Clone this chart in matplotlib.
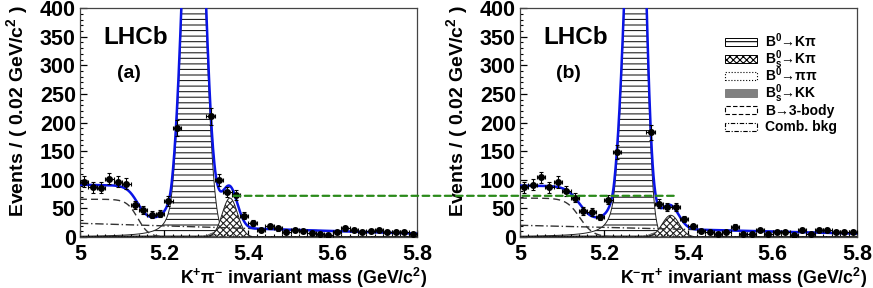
import numpy as np
import matplotlib
matplotlib.use("Agg")
import matplotlib.pyplot as plt
from matplotlib.patches import Rectangle, ConnectionPatch

plt.rcParams['font.family'] = ['Liberation Sans', 'DejaVu Sans']
plt.rcParams['font.weight'] = 'bold'
plt.rcParams['mathtext.fontset'] = 'custom'
plt.rcParams['mathtext.rm'] = 'Liberation Sans:bold'
plt.rcParams['mathtext.bf'] = 'Liberation Sans:bold'
plt.rcParams['mathtext.it'] = 'Liberation Sans:bold:italic'
plt.rcParams['mathtext.default'] = 'bf'
plt.rcParams['hatch.linewidth'] = 0.8

# bin centres, 0.02 GeV/c^2 wide
mass_bins = [5.01, 5.03, 5.05, 5.07, 5.09, 5.11, 5.13, 5.15, 5.17, 5.19,
             5.21, 5.23, 5.25, 5.27, 5.29, 5.31, 5.33, 5.35, 5.37, 5.39,
             5.41, 5.43, 5.45, 5.47, 5.49, 5.51, 5.53, 5.55, 5.57, 5.59,
             5.61, 5.63, 5.65, 5.67, 5.69, 5.71, 5.73, 5.75, 5.77, 5.79]

# events per bin (bins at 5.25-5.29 are off scale, estimated)
events_kpluspi = [97, 87, 86, 102, 97, 93, 56, 48, 39, 41,
                  63, 190, 600, 850, 610, 211, 100, 79, 73, 37,
                  25, 13, 19, 15, 9, 13, 11, 7, 6, 4,
                  9, 15, 12, 9, 11, 13, 9, 9, 8, 6]
events_kminuspi = [87, 91, 104, 87, 96, 81, 69, 46, 44, 35,
                   65, 148, 520, 800, 560, 183, 58, 53, 52, 31,
                   19, 10, 8, 5, 8, 18, 5, 6, 12, 6,
                   8, 8, 4, 12, 5, 13, 12, 8, 8, 8]

# fit components: (amplitude, mean, sigma_left, sigma_right)
b0kpi_a = (833, 5.271, 0.0243, 0.0228)
b0kpi_b = (856, 5.2785, 0.0251, 0.0175)
tail_alpha, tail_n = 2.2, 1.5
bskpi_a = (68, 5.356, 0.018)
bskpi_b = (38, 5.358, 0.020)
bskk_a = (10, 5.325, 0.018)
bskk_b = (9, 5.325, 0.018)
b0pipi_a = (4, 5.33, 0.025)
b0pipi_b = (4, 5.33, 0.025)
# 3-body: (plateau, edge, edge width)
threebody_a = (66, 5.137, 0.013)
threebody_b = (68, 5.142, 0.016)
# combinatorial: level at 5.0 and at 5.8
comb_a = (24, 6)
comb_b = (20.5, 6)

xticks = [5.0, 5.2, 5.4, 5.6, 5.8]
xticklabels = ['5', '5.2', '5.4', '5.6', '5.8']
yticks = [0, 50, 100, 150, 200, 250, 300, 350, 400]

# green reference level drawn across both panels
ref_level = 72
ref_start_a = 5.365
ref_end_b = 5.372

legend_labels = [r'B$^0$→Kπ', r'B$^0_s$→Kπ', r'B$^0$→ππ', r'B$^0_s$→KK',
                 'B→3-body', 'Comb. bkg']
legend_styles = [
    dict(facecolor='white', edgecolor='black', hatch='---', lw=0.7),
    dict(facecolor='white', edgecolor='black', hatch='xxxxx', lw=0.7),
    dict(facecolor='white', edgecolor='black', ls=':', lw=0.8),
    dict(facecolor='#808080', edgecolor='#808080', lw=0.7),
    dict(fill=False, edgecolor='black', ls=(0, (4, 2)), lw=0.8),
    dict(fill=False, edgecolor='black', ls=(0, (4, 1.5, 1, 1.5)), lw=0.8),
]


def gauss(x, amp, mean, sig):
    return amp * np.exp(-0.5 * ((x - mean) / sig) ** 2)


def b0_shape(x, pars):
    amp, mean, sl, sr = pars
    t = np.where(x < mean, (x - mean) / sl, (x - mean) / sr)
    a = (tail_n / tail_alpha) ** tail_n * np.exp(-0.5 * tail_alpha ** 2)
    b = tail_n / tail_alpha - tail_alpha
    tt = np.minimum(t, -tail_alpha)
    tail = a * (b - tt) ** (-tail_n)
    return amp * np.where(t < -tail_alpha, tail, np.exp(-0.5 * t ** 2))


def draw_panel(ax, events, b0p, bsp, kkp, pipip, tbp, combp, xlab, tag):
    x = np.linspace(5.0, 5.8, 801)
    b0 = b0_shape(x, b0p)
    bs = gauss(x, *bsp)
    kk = gauss(x, *kkp)
    pipi = gauss(x, *pipip)
    tb = tbp[0] / (1 + np.exp((x - tbp[1]) / tbp[2]))
    comb = combp[0] + (combp[1] - combp[0]) * (x - 5.0) / 0.8
    total = b0 + bs + kk + pipi + tb + comb

    ax.fill_between(x, 0, b0, facecolor='white', edgecolor='#222222',
                    hatch='---', linewidth=0.7, zorder=1)
    ax.fill_between(x, 0, kk, facecolor='#808080', edgecolor='#606060',
                    linewidth=0.5, zorder=2)
    ax.fill_between(x, 0, bs, facecolor='white', edgecolor='#222222',
                    hatch='xxxxx', linewidth=0.7, zorder=2)
    ax.plot(x, pipi, color='black', lw=0.8, ls=':', zorder=3)
    ax.plot(x, tb, color='#333333', lw=1.0, ls=(0, (5, 3)), zorder=3)
    ax.plot(x, comb, color='#333333', lw=1.0, ls=(0, (6, 2, 1, 2)), zorder=3)
    ax.plot(x, total, color='#0a14e6', lw=1.8, zorder=4)

    ev = np.array(events, dtype=float)
    ax.errorbar(mass_bins, ev, yerr=np.sqrt(ev), xerr=0.01, fmt='o',
                color='black', ms=4, elinewidth=0.8, capsize=1.5,
                capthick=0.8, zorder=5)

    ax.set_xlim(5.0, 5.8)
    ax.set_ylim(0, 400)
    ax.set_xticks(xticks)
    ax.set_xticklabels(xticklabels)
    ax.set_xticks(np.arange(5.0, 5.801, 0.02), minor=True)
    ax.set_yticks(yticks)
    ax.set_yticks(np.arange(0, 401, 10), minor=True)
    ax.tick_params(which='both', direction='in', labelsize=15.5)
    ax.tick_params(axis='y', pad=3)
    ax.tick_params(axis='x', pad=5)
    ax.tick_params(which='major', length=5, width=0.9)
    ax.tick_params(which='minor', length=2.5, width=0.8)
    for sp in ax.spines.values():
        sp.set_linewidth(0.9)
        sp.set_color('#444444')

    ax.set_xlabel(xlab, fontsize=12.8, fontweight='bold', ha='right')
    ax.xaxis.set_label_coords(1.03, -0.124)
    ax.xaxis.label.set_va('top')
    ax.set_ylabel('Events / ( 0.02 GeV/c$^2$ )', fontsize=14,
                  fontweight='bold', ha='right')
    ax.yaxis.set_label_coords(-0.149, 1.015)

    ax.text(0.166, 0.873, 'LHCb', transform=ax.transAxes, fontsize=17.5,
            fontweight='bold', ha='center', va='center')
    ax.text(0.145, 0.716, tag, transform=ax.transAxes, fontsize=14,
            fontweight='bold', ha='center', va='center')


fig = plt.figure(figsize=(8.73, 2.88), dpi=100)
ax_a = fig.add_axes([0.0916, 0.177, 0.386, 0.795])
ax_b = fig.add_axes([0.5956, 0.177, 0.386, 0.795])

draw_panel(ax_a, events_kpluspi, b0kpi_a, bskpi_a, bskk_a, b0pipi_a,
           threebody_a, comb_a, r'K$^{+}$π$^{-}$ invariant mass (GeV/c$^{2}$)', '(a)')
draw_panel(ax_b, events_kminuspi, b0kpi_b, bskpi_b, bskk_b, b0pipi_b,
           threebody_b, comb_b, r'K$^{-}$π$^{+}$ invariant mass (GeV/c$^{2}$)', '(b)')

# legend drawn by hand so that every row has the same height
leg_x, leg_top, leg_step = 0.608, 0.850, 0.0735
box_w, box_h = 0.095, 0.035
for i, (lab, st) in enumerate(zip(legend_labels, legend_styles)):
    yc = leg_top - i * leg_step
    ax_b.add_patch(Rectangle((leg_x, yc - box_h / 2), box_w, box_h,
                             transform=ax_b.transAxes, clip_on=False,
                             zorder=6, **st))
    ax_b.text(leg_x + box_w + 0.024, yc - 0.021, lab, transform=ax_b.transAxes,
              fontsize=10, fontweight='bold', ha='left', va='baseline',
              zorder=6)

con = ConnectionPatch(xyA=(ref_start_a, ref_level), coordsA='data', axesA=ax_a,
                      xyB=(ref_end_b, ref_level), coordsB='data', axesB=ax_b,
                      color='#2a8a1a', lw=1.6, linestyle=(0, (3, 2)), zorder=10)
fig.add_artist(con)

fig.savefig('out.png', dpi=100)
